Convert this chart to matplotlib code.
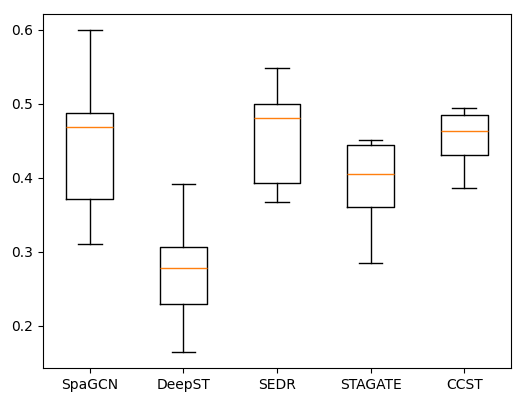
import matplotlib
matplotlib.use('Agg')
import matplotlib.pyplot as plt

# box statistics
methods = ['SpaGCN', 'DeepST', 'SEDR', 'STAGATE', 'CCST']
whisker_low = [0.311, 0.165, 0.367, 0.285, 0.386]
q1 = [0.371, 0.229, 0.393, 0.361, 0.431]
median = [0.469, 0.278, 0.480, 0.405, 0.463]
q3 = [0.487, 0.306, 0.499, 0.444, 0.485]
whisker_high = [0.599, 0.391, 0.548, 0.451, 0.494]


def main():
    stats = []
    for i in range(len(methods)):
        stats.append({'label': methods[i], 'whislo': whisker_low[i], 'q1': q1[i],
                      'med': median[i], 'q3': q3[i], 'whishi': whisker_high[i],
                      'fliers': []})

    fig, ax = plt.subplots(figsize=(5.13, 3.94), dpi=100)
    fig.subplots_adjust(left=0.084, right=0.996, top=0.964, bottom=0.066)
    ax.bxp(stats)
    fig.savefig('out.png')


if __name__ == '__main__':
    main()
